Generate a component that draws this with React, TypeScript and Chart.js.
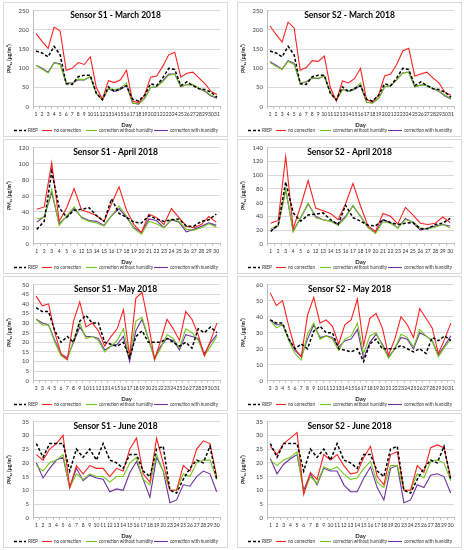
import React, { useEffect, useRef } from "react";
import { Chart, registerables } from "chart.js";

Chart.register(...registerables);

// ---------- categories ----------
const marchDays = ["1","2","3","4","5","6","7","8","9","10","11","12","13","14","15","16","17","18","19","20","21","22","23","24","25","26","27","28","29","30","31"];
const aprilDays = ["1","2","3","4","5","6","12","13","14","15","16","17","18","19","20","21","22","23","24","25","26","27","28","29","30"];
const mayDays = ["2","3","4","5","6","7","8","9","10","11","12","13","14","15","16","17","18","19","20","21","22","23","24","25","26","27","28","29","30","31"];
const juneDays = ["1","2","3","4","5","6","7","8","9","10","11","12","13","14","15","16","17","18","19","20","23","24","25","26","27","28","29","30"];

// ---------- March ----------
const riepMarch = [145,140,130,157,135,60,58,78,82,82,35,18,52,40,48,55,20,15,30,60,55,75,100,97,55,65,55,47,45,38,25];
const s1MarchNoCorr = [190,170,152,207,197,95,100,115,110,130,50,20,68,63,70,95,15,10,30,77,80,105,135,142,77,87,90,75,60,40,32];
const s1MarchNoHum = [108,98,88,113,110,60,62,72,70,78,35,18,47,45,48,62,10,8,22,50,52,65,82,85,52,58,57,48,42,30,25];
const s1MarchHum = [108,100,90,115,112,62,62,70,70,78,35,18,47,40,45,55,10,7,22,50,52,68,85,85,52,58,57,48,40,28,22];
const s2MarchNoCorr = [210,188,168,220,205,95,102,120,118,132,50,15,67,62,73,100,18,13,30,80,85,110,145,152,80,85,90,75,62,38,30];
const s2MarchNoHum = [115,105,97,118,110,62,63,75,75,80,38,17,45,40,48,62,12,10,22,52,55,70,88,90,52,57,55,48,42,30,22];
const s2MarchHum = [117,108,98,120,113,62,65,75,73,80,38,17,45,40,45,55,12,10,22,52,55,70,88,90,52,57,55,48,40,28,20];

// ---------- April ----------
const riepApril = [18,28,90,45,33,42,43,45,35,28,56,38,33,27,26,35,31,28,30,31,22,22,28,30,37];
const s1AprilNoCorr = [43,46,101,28,45,69,42,39,35,28,50,71,42,24,14,37,33,24,44,33,22,20,24,34,27];
const s1AprilNoHum = [31,33,68,23,35,46,32,28,26,22,35,47,35,19,12,28,25,20,31,28,18,17,20,25,21];
const s1AprilHum = [27,34,64,25,34,44,33,29,28,23,35,44,33,20,14,31,29,20,30,27,15,18,22,26,23];
const s2AprilNoCorr = [30,34,127,22,55,92,52,48,44,35,58,88,55,26,18,44,40,29,53,42,30,28,30,39,31];
const s2AprilNoHum = [22,27,80,17,38,59,38,35,33,27,38,56,40,24,15,32,30,23,35,32,23,22,24,28,23];
const s2AprilHum = [19,26,78,19,38,58,40,35,33,29,40,55,40,24,16,35,31,23,37,31,20,23,26,28,26];

// ---------- May ----------
const riepMay = [38,36,36,26,20,23,20,31,34,30,30,20,19,18,20,12,23,26,20,20,20,22,20,18,20,17,27,25,28,25];
const s1MayNoCorr = [44,39,40,25,14,11,31,41,28,30,26,18,23,27,37,13,43,46,30,11,21,32,27,21,36,32,24,13,21,30];
const s1MayNoHum = [32,29,29,20,13,11,21,30,22,23,21,15,18,21,27,12,31,33,22,11,17,24,22,17,27,25,21,13,18,23];
const s1MayHum = [32,30,29,21,14,12,20,28,23,23,22,16,18,19,23,10,26,32,22,12,18,22,21,16,24,23,22,14,20,24];
const s2MayNoCorr = [55,47,50,34,20,15,41,52,36,38,34,23,35,38,51,22,39,42,33,16,26,40,35,27,45,39,33,17,26,36];
const s2MayNoHum = [38,33,35,25,17,13,29,36,26,28,26,19,26,28,36,17,28,30,22,14,20,29,27,21,32,28,25,15,21,26];
const s2MayHum = [38,35,35,26,19,15,26,35,27,28,27,21,25,26,32,14,24,29,23,15,20,27,26,20,30,28,25,16,22,28];

// ---------- June ----------
const riepJune = [27,22,27,27,27,17,25,22,25,21,27,21,20,18,23,23,17,15,25,26,10,9,14,18,21,20,26,14];
const s1JuneNoCorr = [23,21,25,27,30,11,19,16,19,18,18,15,18,17,25,29,16,13,29,20,10,10,19,17,25,28,27,15];
const s1JuneNoHum = [19,17,20,21,23,11,16,14,16,15,15,13,15,15,20,22,14,12,23,17,10,10,16,15,20,21,21,14];
const s1JuneHum = [20,14.5,18,21,22,11,18,13.5,15.5,14.5,14,9.5,10.5,10,16.5,20.5,14,7.5,22,17,5.5,6.5,12,11.5,15,17,16,9.5];
const s2JuneNoCorr = [26,23,27,29,31,8.5,16.5,14,23,21,23,19,16,16.5,22,26,15,12,23,24,10,10,19,16.5,25.5,26.5,25.5,14.5];
const s2JuneNoHum = [21,19,21,22,24,9,15,12.5,18.5,17.5,18.5,16,14,14.5,18,20.5,13,11,19,19,10,10,16,14.5,20.5,21,20,13.5];
const s2JuneHum = [21.5,16,19.5,21.5,23,10,16,12,18,17,17,12,9.5,9.5,14.5,18.5,11,6.5,18,19,5.5,6.5,12,11,15.5,16,15,9];

// ---------- styling ----------
const FONT = "Lato, 'Liberation Sans', sans-serif";
const seriesNames = ["RIEP", "no correction", "correction without humidity", "correction with humidity"];
const seriesColors = ["#000000", "#ff2020", "#70c81e", "#7030a0"];

const insideTitle = {
  id: "insideTitle",
  afterDraw(chart: any, _args: any, opts: any) {
    const { ctx } = chart;
    ctx.save();
    ctx.font = `bold 8.5px ${FONT}`;
    ctx.fillStyle = "#000";
    ctx.textAlign = "center";
    ctx.textBaseline = "middle";
    ctx.fillText(opts.text || "", chart.width / 2, chart.chartArea.top + 5);
    ctx.restore();
  },
};

// legend entries laid out in one row along the bottom, using each dataset's own style
const legendSlots = [
  { x0: 10, x1: 22, text: 24, w: 10 },
  { x0: 38, x1: 48, text: 50, w: 27 },
  { x0: 82, x1: 93, text: 95, w: 54 },
  { x0: 150, x1: 164, text: 166, w: 48 },
];

const rowLegend = {
  id: "rowLegend",
  afterDraw(chart: any) {
    const { ctx } = chart;
    const y = chart.height - 5.5;
    ctx.save();
    chart.data.datasets.forEach((ds: any, i: number) => {
      const s = legendSlots[i];
      ctx.strokeStyle = ds.borderColor;
      ctx.lineWidth = ds.borderWidth;
      ctx.setLineDash(ds.borderDash || []);
      ctx.beginPath();
      ctx.moveTo(s.x0, y);
      ctx.lineTo(s.x1, y);
      ctx.stroke();
      ctx.setLineDash([]);
      ctx.font = `5px ${FONT}`;
      ctx.fillStyle = "#333333";
      ctx.textAlign = "left";
      ctx.textBaseline = "middle";
      ctx.fillText(ds.label, s.text, y + 0.3, s.w);
    });
    ctx.restore();
  },
};

type PanelProps = {
  title: string;
  labels: string[];
  riep: number[];
  noCorr: number[];
  noHum: number[];
  hum: number[];
  yMax: number;
  yStep: number;
  left: number;
  top: number;
};

function Panel(p: PanelProps) {
  const ref = useRef<HTMLCanvasElement | null>(null);
  useEffect(() => {
    if (!ref.current) return;
    const data = [p.riep, p.noCorr, p.noHum, p.hum];
    const chart = new Chart(ref.current, {
      type: "line",
      data: {
        labels: p.labels,
        datasets: data.map((d, i) => ({
          label: seriesNames[i],
          data: d,
          borderColor: seriesColors[i],
          backgroundColor: seriesColors[i],
          borderWidth: i === 0 ? 1.5 : 1.1,
          borderDash: i === 0 ? [3, 2] : [],
          pointRadius: 0,
          tension: 0,
          fill: false,
        })),
      },
      options: {
        animation: false,
        responsive: true,
        maintainAspectRatio: false,
        layout: { padding: { top: 5, right: 7, left: 2, bottom: 7 } },
        plugins: {
          legend: { display: false },
          tooltip: { enabled: false },
          insideTitle: { text: p.title },
        } as any,
        scales: {
          x: {
            offset: true,
            grid: { display: true, drawOnChartArea: false, drawTicks: true, tickLength: 2, color: "#bfbfbf", offset: true },
            border: { display: true, color: "#bfbfbf" },
            ticks: {
              autoSkip: false,
              maxRotation: 0,
              minRotation: 0,
              padding: 3,
              color: "#303030",
              font: { size: 5, family: FONT },
            },
            title: {
              display: true,
              text: "Day",
              color: "#202020",
              padding: { top: 1, bottom: 0 },
              font: { size: 6, family: FONT, weight: "bold" },
            },
          },
          y: {
            min: 0,
            max: p.yMax,
            afterFit: (scale: any) => {
              scale.width = 27;
            },
            grid: { color: "#d9d9d9", drawTicks: false },
            border: { display: true, color: "#bfbfbf" },
            ticks: {
              autoSkip: false,
              stepSize: p.yStep,
              padding: 4,
              color: "#404040",
              font: { size: 6, family: FONT },
            },
            title: {
              display: true,
              text: "PM\u2081\u2080 (\u03bcg/m\u00b3)",
              color: "#202020",
              padding: { top: 0, bottom: 1 },
              font: { size: 5, family: FONT, weight: "bold" },
            },
          },
        },
      },
      plugins: [insideTitle as any, rowLegend as any],
    });
    return () => chart.destroy();
  }, []);
  return (
    <div
      style={{
        position: "absolute",
        left: p.left,
        top: p.top,
        width: 225,
        height: 135,
        border: "1px solid #d9d9d9",
        boxSizing: "border-box",
        background: "#fff",
      }}
    >
      <canvas ref={ref} />
    </div>
  );
}

export default function App() {
  const L = 3;
  const R = 237;
  const rows = [2, 139, 276, 413];
  return (
    <div style={{ position: "fixed", left: 0, top: 0, width: 464, height: 550, background: "#fff" }}>
      <Panel title="Sensor S1 - March 2018" labels={marchDays} riep={riepMarch} noCorr={s1MarchNoCorr} noHum={s1MarchNoHum} hum={s1MarchHum} yMax={250} yStep={50} left={L} top={rows[0]} />
      <Panel title="Sensor S2 - March 2018" labels={marchDays} riep={riepMarch} noCorr={s2MarchNoCorr} noHum={s2MarchNoHum} hum={s2MarchHum} yMax={250} yStep={50} left={R} top={rows[0]} />
      <Panel title="Sensor S1 - April 2018" labels={aprilDays} riep={riepApril} noCorr={s1AprilNoCorr} noHum={s1AprilNoHum} hum={s1AprilHum} yMax={120} yStep={20} left={L} top={rows[1]} />
      <Panel title="Sensor S2 - April 2018" labels={aprilDays} riep={riepApril} noCorr={s2AprilNoCorr} noHum={s2AprilNoHum} hum={s2AprilHum} yMax={140} yStep={20} left={R} top={rows[1]} />
      <Panel title="Sensor S1 - May 2018" labels={mayDays} riep={riepMay} noCorr={s1MayNoCorr} noHum={s1MayNoHum} hum={s1MayHum} yMax={50} yStep={5} left={L} top={rows[2]} />
      <Panel title="Sensor S2 - May 2018" labels={mayDays} riep={riepMay} noCorr={s2MayNoCorr} noHum={s2MayNoHum} hum={s2MayHum} yMax={60} yStep={10} left={R} top={rows[2]} />
      <Panel title="Sensor S1 - June 2018" labels={juneDays} riep={riepJune} noCorr={s1JuneNoCorr} noHum={s1JuneNoHum} hum={s1JuneHum} yMax={35} yStep={5} left={L} top={rows[3]} />
      <Panel title="Sensor S2 - June 2018" labels={juneDays} riep={riepJune} noCorr={s2JuneNoCorr} noHum={s2JuneNoHum} hum={s2JuneHum} yMax={35} yStep={5} left={R} top={rows[3]} />
    </div>
  );
}
